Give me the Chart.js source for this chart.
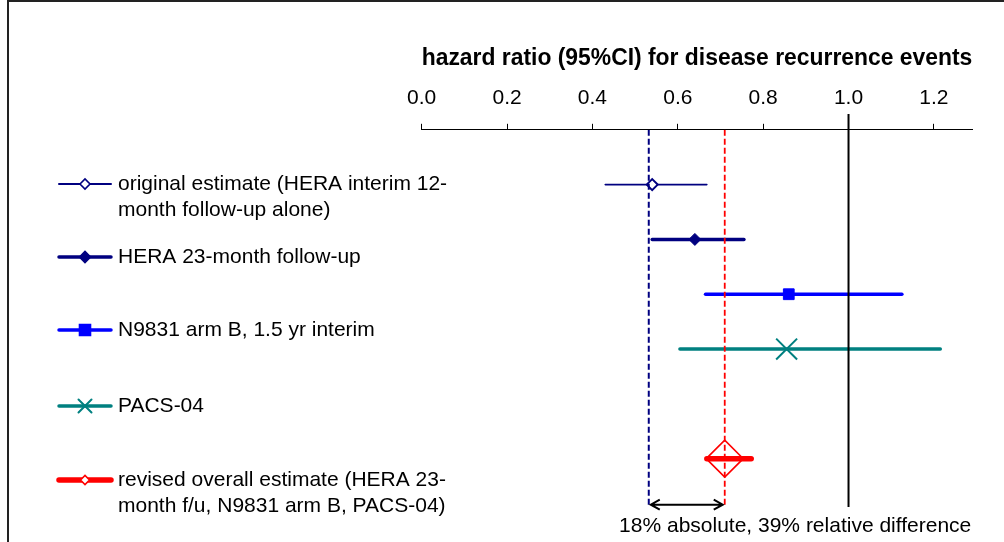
<!DOCTYPE html>
<html>
<head>
<meta charset="utf-8">
<script src="https://cdn.jsdelivr.net/npm/chart.js@4"></script>
<style>
  html, body { margin: 0; padding: 0; background: #fff; }
  #wrap { position: relative; width: 1004px; height: 542px; }
  #frame { position: absolute; left: 7px; top: 0; right: 0; bottom: 0;
           border-left: 2px solid #222; border-top: 2px solid #222; pointer-events: none; }
</style>
</head>
<body>
<div id="wrap">
  <canvas id="forest"></canvas>
  <div id="frame"></div>
</div>
<script>
// studies, hazard ratio and 95% CI
var studyNames = [
  ['original estimate (HERA interim 12-', 'month follow-up alone)'],
  ['HERA 23-month follow-up'],
  ['N9831 arm B, 1.5 yr interim'],
  ['PACS-04'],
  ['revised overall estimate (HERA 23-', 'month f/u, N9831 arm B, PACS-04)']
];
var hazardRatio = [0.54, 0.64, 0.86, 0.855, 0.71];
var ciLower = [0.43, 0.54, 0.665, 0.605, 0.668];
var ciUpper = [0.668, 0.755, 1.125, 1.215, 0.772];
var rowIndex = [1, 2, 3, 4, 6];

// reference lines: original estimate, revised estimate, no effect
var refOriginal = 0.532;
var refRevised = 0.71;
var refNull = 1.0;

var xTicks = [0.0, 0.2, 0.4, 0.6, 0.8, 1.0, 1.2];
var axisTitle = 'hazard ratio (95%CI) for disease recurrence events';
var noteText = '18% absolute, 39% relative difference';

var FONT = "'Liberation Sans', Arial, sans-serif";

// marker / line look for each study
var styles = [
  { color: '#000080', width: 1.6, marker: 'rectRot', r: 5.5, fill: '#ffffff', mw: 2,   lw: 2,   lr: 5 },
  { color: '#000080', width: 3.5, marker: 'rectRot', r: 6,   fill: '#000080', mw: 1,   lw: 3.5, lr: 5.5 },
  { color: '#0000ff', width: 3.5, marker: 'rect',    r: 7.6, fill: '#0000ff', mw: 1,   lw: 3.5, lr: 5.5 },
  { color: '#008080', width: 3.5, marker: 'crossRot',r: 14.8,fill: '#008080', mw: 2,   lw: 3.5, lr: 6.5 },
  { color: '#ff0000', width: 5.5, marker: 'rectRot', r: 18.5,fill: 'rgba(0,0,0,0)', mw: 1.6, lw: 5.5, lr: 4.5 }
];

var datasets = [];

// reference lines first so they sit on top
datasets.push({
  data: [{ x: refNull, y: -0.29 }, { x: refNull, y: 6.88 }],
  borderColor: '#000', borderWidth: 2, pointRadius: 0, clip: false
});
datasets.push({
  data: [{ x: refRevised, y: 0 }, { x: refRevised, y: 6.88 }],
  borderColor: '#ff0000', borderWidth: 1.8, borderDash: [6, 3], pointRadius: 0
});
datasets.push({
  data: [{ x: refOriginal, y: 0 }, { x: refOriginal, y: 6.88 }],
  borderColor: '#000080', borderWidth: 2, borderDash: [6, 3], pointRadius: 0
});

studyNames.forEach(function (name, i) {
  var s = styles[i];
  datasets.push({
    label: name.join(' '),
    data: [
      { x: ciLower[i], y: rowIndex[i] },
      { x: hazardRatio[i], y: rowIndex[i] },
      { x: ciUpper[i], y: rowIndex[i] }
    ],
    borderColor: s.color,
    borderWidth: s.width,
    borderCapStyle: 'round',
    pointStyle: s.marker,
    pointRadius: function (ctx) { return ctx.dataIndex === 1 ? s.r : 0; },
    pointBackgroundColor: s.fill,
    pointBorderColor: s.color,
    pointBorderWidth: s.mw
  });
});

function drawMarker(ctx, kind, x, y, r, fill, stroke, w) {
  ctx.save();
  ctx.beginPath();
  if (kind === 'rectRot') {
    ctx.moveTo(x - r, y); ctx.lineTo(x, y - r); ctx.lineTo(x + r, y); ctx.lineTo(x, y + r);
    ctx.closePath();
  } else if (kind === 'rect') {
    ctx.rect(x - r, y - r, 2 * r, 2 * r);
  } else {
    ctx.moveTo(x - r, y - r); ctx.lineTo(x + r, y + r);
    ctx.moveTo(x + r, y - r); ctx.lineTo(x - r, y + r);
  }
  if (kind !== 'crossRot') { ctx.fillStyle = fill; ctx.fill(); }
  ctx.strokeStyle = stroke; ctx.lineWidth = w; ctx.stroke();
  ctx.restore();
}

var extras = {
  id: 'extras',
  afterDraw: function (chart) {
    var ctx = chart.ctx;
    var xs = chart.scales.x, ys = chart.scales.y;

    // legend on the left
    var legendY = [184, 257, 330, 406, 480];
    ctx.save();
    ctx.font = '21px ' + FONT;
    ctx.textBaseline = 'middle';
    ctx.fillStyle = '#000';
    studyNames.forEach(function (lines, i) {
      var s = styles[i], y = legendY[i];
      ctx.beginPath();
      ctx.moveTo(59, y); ctx.lineTo(111, y);
      ctx.strokeStyle = s.color; ctx.lineWidth = s.lw; ctx.lineCap = 'round';
      ctx.stroke();
      var mfill = s.fill === 'rgba(0,0,0,0)' ? '#ffffff' : s.fill;
      drawMarker(ctx, s.marker, 85, y, s.lr, mfill, s.color, i === 3 ? 2 : 1.6);
      lines.forEach(function (t, k) { ctx.fillText(t, 118, y + k * 26); });
    });

    // double arrow between the two estimates
    var ya = ys.getPixelForValue(6.84);
    var xa = xs.getPixelForValue(refOriginal) + 2, xb = xs.getPixelForValue(refRevised) - 2;
    ctx.strokeStyle = '#000'; ctx.lineWidth = 2; ctx.lineCap = 'butt';
    ctx.beginPath();
    ctx.moveTo(xa, ya); ctx.lineTo(xb, ya);
    ctx.moveTo(xa + 9, ya - 5); ctx.lineTo(xa, ya); ctx.lineTo(xa + 9, ya + 5);
    ctx.moveTo(xb - 9, ya - 5); ctx.lineTo(xb, ya); ctx.lineTo(xb - 9, ya + 5);
    ctx.stroke();

    ctx.textAlign = 'center';
    ctx.fillText(noteText, xs.getPixelForValue(0.875), ys.getPixelForValue(7.24));
    ctx.restore();
  }
};

new Chart(document.getElementById('forest').getContext('2d'), {
  type: 'line',
  data: { datasets: datasets },
  options: {
    responsive: true,
    maintainAspectRatio: false,
    animation: false,
    events: [],
    layout: { padding: { left: 421.7, right: 31.7, top: 0, bottom: 0 } },
    plugins: { legend: { display: false }, tooltip: { enabled: false } },
    elements: { line: { tension: 0 } },
    scales: {
      x: {
        type: 'linear',
        position: 'top',
        min: 0,
        max: 1.29,
        afterBuildTicks: function (axis) { axis.ticks = xTicks.map(function (v) { return { value: v }; }); },
        ticks: {
          color: '#000',
          padding: 13,
          font: { family: FONT, size: 21 },
          callback: function (v) { return v.toFixed(1); }
        },
        grid: { drawOnChartArea: false, drawTicks: true, tickLength: 6, color: '#000', lineWidth: 1 },
        border: { display: true, color: '#000', width: 1 },
        title: {
          display: true,
          text: axisTitle,
          color: '#000',
          font: { family: FONT, size: 23, weight: 'bold' },
          padding: { top: 45, bottom: 0 }
        }
      },
      y: {
        type: 'linear',
        display: false,
        reverse: true,
        min: 0,
        max: 7.52
      }
    }
  },
  plugins: [extras]
});
</script>
</body>
</html>
